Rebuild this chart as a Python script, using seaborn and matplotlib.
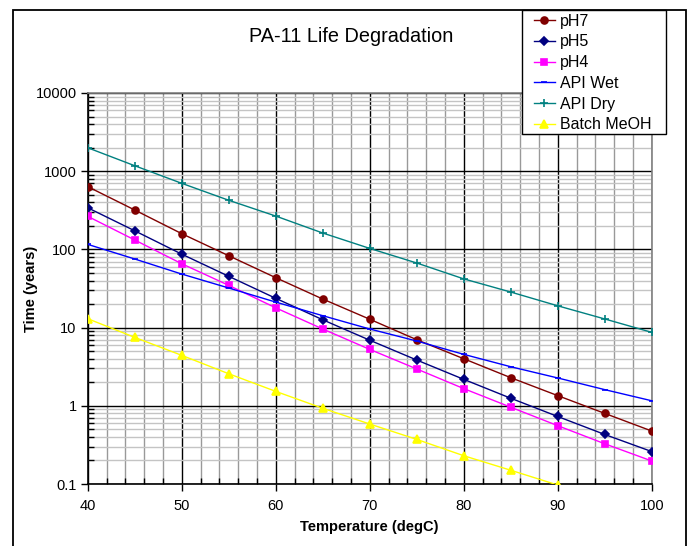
import numpy as np
import pandas as pd
import seaborn as sns
import matplotlib.pyplot as plt
from matplotlib.patches import Rectangle
from matplotlib.ticker import FixedLocator, LogLocator, FuncFormatter, MultipleLocator

# valori (anni di vita vs temperatura)
temps = [40, 45, 50, 55, 60, 65, 70, 75, 80, 85, 90, 95, 100]
ph7 = [635, 319, 159, 83, 43.5, 23.2, 12.8, 7.0, 4.0, 2.29, 1.35, 0.80, 0.476]
ph5 = [341, 173, 87, 45.3, 23.7, 12.6, 6.9, 3.85, 2.18, 1.25, 0.73, 0.43, 0.26]
ph4 = [265, 132, 65.6, 34.7, 17.9, 9.6, 5.27, 2.96, 1.66, 0.96, 0.557, 0.327, 0.197]
api_wet = [116, 75.4, 48.4, 32.1, 21.2, 14.2, 9.6, 6.74, 4.55, 3.16, 2.27, 1.61, 1.16]
api_dry = [1995, 1175, 700, 425, 267, 162, 103, 67, 42, 28.5, 19, 12.9, 8.7]
batch_temps = [40, 45, 50, 55, 60, 65, 70, 75, 80, 85, 90]
batch_meoh = [13.0, 7.5, 4.42, 2.57, 1.53, 0.93, 0.585, 0.372, 0.23, 0.15, 0.097]

serie = [
    ("pH7", temps, ph7, "#800000", "o", 5),
    ("pH5", temps, ph5, "#000080", "D", 4.5),
    ("pH4", temps, ph4, "#FF00FF", "s", 5),
    ("API Wet", temps, api_wet, "#0000FF", "_", 5),
    ("API Dry", temps, api_dry, "#008080", "+", 6),
    ("Batch MeOH", batch_temps, batch_meoh, "#FFFF00", "^", 6),
]

plt.rcParams['font.family'] = ['Liberation Sans', 'DejaVu Sans']

W, H = 691, 546
fig = plt.figure(figsize=(W / 100, H / 100), dpi=100)
fig.patch.set_facecolor('white')

# cornice esterna del grafico
fig.patches.append(Rectangle((13 / W, -0.05), (686 - 13) / W, 1.05 - 10 / H,
                             transform=fig.transFigure, fill=False,
                             edgecolor='black', linewidth=1.3, zorder=0))

ax = fig.add_axes([87.7 / W, 1 - 484 / H, (651.7 - 87.7) / W, (484 - 93) / H])

for nome, xs, ys, col, mk, ms in serie:
    sns.lineplot(x=xs, y=ys, ax=ax, color=col, marker=mk, markersize=ms,
                 markeredgecolor=col, markerfacecolor=col, markeredgewidth=1.2,
                 linewidth=1.0, label=nome, zorder=5)

ax.set_yscale('log')
ax.set_xlim(40, 100)
ax.set_ylim(0.1, 10000)

ax.xaxis.set_major_locator(MultipleLocator(10))
ax.xaxis.set_minor_locator(MultipleLocator(2))
ax.yaxis.set_major_locator(FixedLocator([0.1, 1, 10, 100, 1000, 10000]))
ax.yaxis.set_minor_locator(LogLocator(base=10, subs=np.arange(2, 10)))
ax.yaxis.set_major_formatter(FuncFormatter(lambda v, p: f"{v:g}"))

ax.grid(which='major', axis='both', color='black', linewidth=1.0, zorder=1)
ax.grid(which='minor', axis='x', color='#999999', linewidth=1.0, zorder=1)
ax.grid(which='minor', axis='y', color='#c4c4c4', linewidth=1.0, zorder=1)
ax.set_axisbelow(True)

for s in ['top', 'right']:
    ax.spines[s].set_color('#808080')
    ax.spines[s].set_linewidth(1.2)
for s in ['left', 'bottom']:
    ax.spines[s].set_color('black')
    ax.spines[s].set_linewidth(1.2)

ax.tick_params(which='major', direction='out', length=5, width=1, labelsize=10.5,
               colors='black')
ax.tick_params(which='minor', direction='in', length=4, width=1, colors='black')
ax.tick_params(axis='x', pad=6)
ax.tick_params(axis='y', pad=3)

ax.set_xlabel("Temperature (degC)", fontsize=10.5, fontweight='bold', labelpad=5)
ax.set_ylabel("Time (years)", fontsize=10.5, fontweight='bold', labelpad=-2)

fig.text(351 / W, 1 - 37 / H, "PA-11 Life Degradation", fontsize=14.3,
         ha='center', va='center')

# legenda con cornice disegnata a parte
if ax.legend_:
    ax.legend_.remove()
handles, labels = ax.get_legend_handles_labels()
fig.patches.append(Rectangle((521.7 / W, 1 - 134 / H), 144 / W, 124 / H,
                             transform=fig.transFigure, facecolor='white',
                             edgecolor='black', linewidth=1.0, zorder=3))
leg = fig.legend(handles, labels, loc='upper left',
                 bbox_to_anchor=(532 / W, 1 - 12 / H),
                 bbox_transform=fig.transFigure, frameon=False,
                 fontsize=11.5, handlelength=1.35, handletextpad=0.3,
                 labelspacing=0.36, borderpad=0.1, borderaxespad=0)
leg.set_zorder(4)

fig.savefig('out.png', dpi=100, facecolor='white')
